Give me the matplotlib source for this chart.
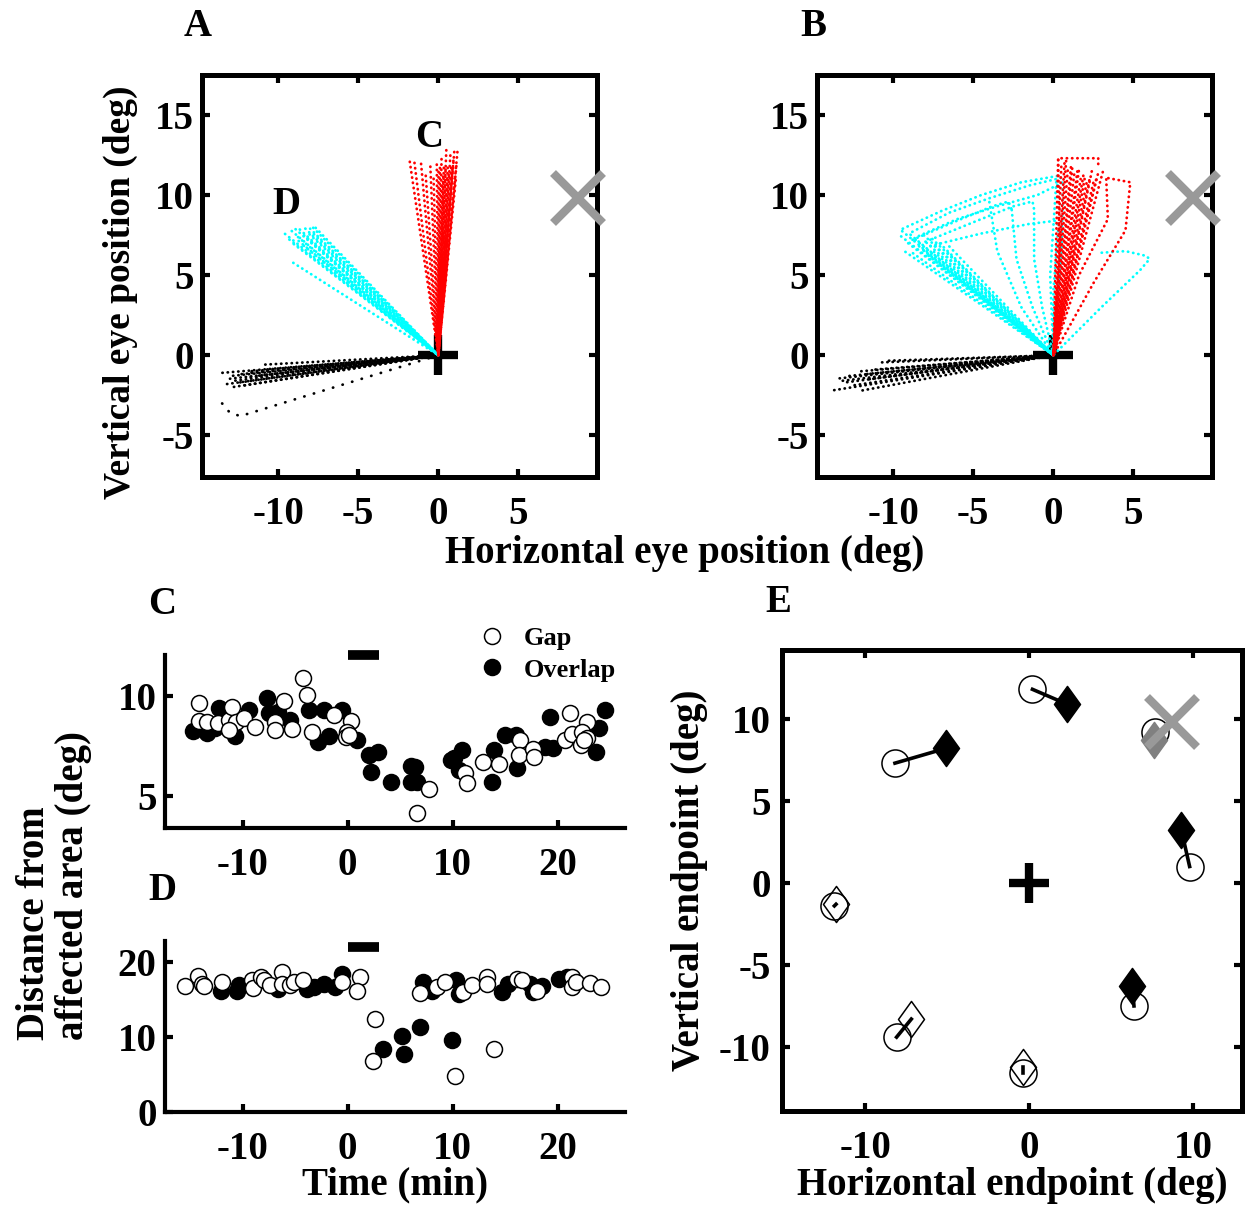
import numpy as np
import matplotlib.pyplot as plt
from matplotlib.path import Path

plt.rcParams['font.family'] = ['Liberation Serif', 'DejaVu Serif']
plt.rcParams['font.weight'] = 'bold'
plt.rcParams['axes.unicode_minus'] = False

# ---- panel A: saccade endpoints (deg), all traces start at fixation (0, 0)
a_red_x = [-1.8, -1.5, -1.1, -0.8, -0.5, -0.3, -0.1, 0.0, 0.1, 0.2, 0.3, 0.35, 0.45,
           0.5, 0.6, 0.65, 0.75, 0.8, 0.9, 0.95, 1.0, 1.1, 1.15, 1.2, 0.55, 0.25]
a_red_y = [12.2, 12.1, 12.2, 11.4, 11.8, 11.2, 12.1, 11.5, 11.9, 12.4, 11.2, 12.0, 11.6,
           12.9, 12.0, 11.4, 12.5, 11.8, 11.9, 12.3, 12.8, 11.1, 12.1, 12.8, 11.0, 10.8]
a_cyan_x = [-9.6, -9.4, -9.2, -9.0, -8.9, -8.7, -8.5, -8.4, -8.2, -8.0, -7.9, -7.7,
            -8.8, -8.6, -9.1, -8.3, -7.8, -9.1]
a_cyan_y = [7.6, 7.3, 7.8, 7.95, 7.5, 7.9, 7.6, 8.0, 7.7, 7.9, 8.05, 8.0,
            7.2, 7.0, 7.0, 7.4, 7.6, 5.8]
a_black_x = [-13.5, -13.3, -13.2, -13.0, -12.8, -12.5, -12.2, -12.0, -11.7, -11.4,
             -11.1, -10.8, -12.9, -12.4, -11.9]
a_black_y = [-1.1, -1.5, -1.8, -1.3, -1.6, -1.2, -1.9, -1.4, -1.0, -1.3,
             -0.6, -0.9, -2.0, -1.7, -1.1]
a_black_odd = [(0, 0), (-12.35, -3.8), (-13.0, -3.6), (-13.5, -3.0)]

# ---- panel B
b_black_x = [-13.8, -13.4, -13.0, -12.6, -12.2, -11.9, -11.5, -11.2, -10.8, -10.5,
             -12.8, -12.0, -13.2]
b_black_y = [-2.2, -1.45, -1.7, -1.9, -2.25, -1.2, -1.5, -0.9, -0.45, -0.35,
             -1.3, -1.0, -1.6]
b_red_x = [0.3, 0.5, 0.7, 0.9, 1.1, 1.3, 1.5, 1.7, 1.9, 2.1, 2.3, 2.5, 2.7,
           0.8, 1.2, 1.6, 2.0, 2.4, 2.8, 3.1]
b_red_y = [12.3, 11.9, 12.1, 11.6, 11.8, 11.3, 11.5, 11.0, 11.4, 10.9, 11.2, 10.8, 11.1,
           12.2, 11.9, 11.6, 11.3, 11.5, 11.4, 11.5]
b_red_paths = [
    [(0, 0), (0.4, 6.0), (0.3, 12.3), (2.8, 12.3), (2.8, 11.8)],
    [(0, 0), (2.5, 4.5), (4.5, 7.8), (4.8, 10.8), (3.2, 11.1)],
    [(0, 0), (1.6, 5.0), (3.4, 8.5), (3.3, 11.0)],
]
b_cyan_x = [-9.5, -9.2, -9.0, -8.7, -8.5, -8.2, -8.0, -7.7, -7.4, -7.1, -6.8, -6.5,
            -9.3, -8.8, -8.3, -7.9, -7.5, -9.6]
b_cyan_y = [7.8, 7.1, 7.6, 7.3, 6.9, 7.6, 7.1, 7.4, 6.8, 7.0, 6.6, 6.8,
            6.5, 6.4, 6.7, 6.3, 6.5, 7.5]
b_cyan_paths = [
    [(-9.4, 7.9), (-7.0, 9.0), (-4.5, 10.0), (-2.0, 10.8), (0.3, 11.2)],
    [(-9.0, 7.6), (-6.5, 8.9), (-4.0, 9.8), (-1.5, 10.6), (0.6, 11.1)],
    [(-8.5, 7.4), (-6.0, 8.5), (-3.5, 9.3), (-1.0, 10.0), (0.8, 10.9)],
    [(-8.8, 7.2), (-6.0, 8.4), (-3.8, 9.3), (-2.8, 9.6), (-2.6, 9.1)],
    [(-8.2, 7.0), (-5.0, 8.3), (-2.5, 9.3), (-1.3, 9.6), (-1.2, 9.1)],
    [(-7.8, 6.8), (-4.5, 7.6), (-1.5, 8.2), (0.2, 8.4), (0.3, 7.9)],
    [(-2.6, 9.1), (-2.3, 6.0), (-1.3, 3.0), (0, 0)],
    [(-1.2, 9.1), (-1.2, 6.0), (-0.7, 3.0), (0, 0)],
    [(0.3, 7.9), (0.0, 4.0), (0, 0)],
    [(-4.0, 9.6), (-3.5, 6.5), (-2.0, 3.0), (0, 0)],
    [(0, 0), (-0.2, 5.0), (0.2, 11.1)],
    [(0, 0), (0.5, 6.0), (0.6, 11.0)],
    [(0, 0), (3.0, 3.0), (5.4, 5.3), (6.0, 6.0), (5.8, 6.2), (4.5, 6.5), (3.0, 6.4)],
]

target_x, target_y = 8.7, 9.8

# ---- panels C and D: distance from affected area vs time
c_gap_t = [-14.2, -14.2, -13.4, -12.4, -11.3, -11.0, -10.6, -11.3, -9.9, -8.8, -6.9, -6.9,
           -6.1, -5.3, -4.3, -3.9, -3.4, -1.3, 0.3, -0.1, -0.2, 0.1, 6.6, 7.7, 11.2, 11.4,
           12.9, 14.4, 16.4, 16.3, 17.6, 17.7, 21.2, 20.7, 21.4, 22.8, 22.3, 22.2, 22.8, 22.5]
c_gap_y = [9.66, 8.75, 8.72, 8.67, 8.8, 9.47, 8.72, 8.3, 8.88, 8.47, 8.72, 8.3,
           9.77, 8.33, 10.88, 10.05, 8.22, 9.05, 8.75, 8.22, 7.97, 8.05, 4.17, 5.33, 6.13, 5.67,
           6.72, 6.6, 7.8, 7.05, 7.33, 6.93, 9.13, 7.8, 8.1, 8.72, 8.22, 7.55, 7.88, 7.8]
c_overlap_t = [-14.7, -13.4, -12.3, -12.6, -10.7, -9.4, -7.7, -7.5, -6.6, -5.5, -3.7, -2.3,
               -2.8, -1.8, -0.5, 0.9, 2.0, 2.9, 2.2, 4.1, 6.0, 6.45, 6.0, 6.6, 9.8, 10.1,
               10.9, 10.6, 13.75, 13.9, 15.0, 16.0, 16.1, 18.8, 19.5, 19.3, 23.6, 23.9, 24.5]
c_overlap_y = [8.27, 8.17, 9.38, 8.38, 8.0, 9.3, 9.88, 9.13, 9.2, 8.8, 9.3, 9.3,
               7.72, 8.0, 9.3, 7.8, 7.05, 7.18, 6.22, 5.72, 6.5, 6.43, 5.72, 5.72, 6.8, 6.88,
               7.3, 6.3, 5.72, 7.3, 8.05, 8.05, 6.38, 7.47, 7.38, 8.93, 7.22, 8.38, 9.3]

d_gap_t = [-15.5, -14.3, -13.9, -13.7, -12.0, -9.1, -9.0, -8.3, -8.0, -7.4, -6.25, -6.25,
           -5.5, -5.1, -4.3, -0.5, 1.2, 0.9, 2.6, 2.4, 10.2, 13.9, 6.9, 8.5, 9.3, 11.0,
           11.8, 13.3, 13.3, 16.1, 16.6, 18.0, 21.4, 21.4, 21.7, 23.1, 24.1]
d_gap_y = [16.76, 18.1, 17.1, 16.76, 17.3, 17.56, 16.6, 18.0, 17.56, 16.9, 18.67, 17.1,
           16.9, 17.3, 17.56, 17.3, 18.0, 16.2, 12.45, 6.85, 4.76, 8.45, 15.87, 16.67, 17.33, 16.0,
           16.9, 18.0, 17.1, 17.8, 17.56, 16.2, 18.0, 16.67, 17.33, 17.2, 16.67]
d_overlap_t = [-12.1, -10.4, -10.5, -6.6, -3.9, -3.2, -2.3, -1.2, -0.5, 3.4, 5.2, 5.4,
               6.9, 9.9, 7.2, 8.0, 10.3, 10.6, 14.7, 15.3, 17.4, 17.6, 18.5, 20.1, 20.9]
d_overlap_y = [16.2, 16.9, 16.2, 16.45, 16.45, 16.67, 17.1, 16.67, 18.45, 8.36, 10.2, 7.8,
               11.33, 9.56, 17.33, 16.2, 17.56, 15.8, 16.0, 17.1, 17.1, 16.0, 16.76, 17.8, 18.0]
stim_on, stim_off = 0, 3

# ---- panel E: endpoints before (circles) and after (diamonds)
e_pre_x = [-8.2, 0.2, 7.7, 9.8, 6.4, -8.1, -0.4, -11.9]
e_pre_y = [7.3, 11.8, 9.2, 1.0, -7.5, -9.4, -11.6, -1.4]
e_post_x = [-5.1, 2.3, 7.6, 9.3, 6.3, -7.2, -0.4, -11.8]
e_post_y = [8.2, 10.9, 8.7, 3.2, -6.3, -8.3, -11.2, -1.3]
e_group = ['shift', 'shift', 'target', 'shift', 'shift', 'none', 'none', 'none']


def box_axes(ax, lw=3.6):
    for s in ax.spines.values():
        s.set_linewidth(lw)
    ax.tick_params(direction='in', top=True, right=True, length=6, width=3,
                   labelsize=28)


def open_axes(ax):
    ax.spines['top'].set_visible(False)
    ax.spines['right'].set_visible(False)
    for s in ['left', 'bottom']:
        ax.spines[s].set_linewidth(3)
    ax.tick_params(direction='in', length=6, width=3, labelsize=28)


# dotted sample trains; the phase is shifted from trace to trace so the
# dots do not line up across neighbouring traces
def dotted(ax, xs, ys, color, i, gap=1.8):
    ax.plot(xs, ys, color=color, lw=2.0, dash_capstyle='round',
            ls=((i * 0.61) % (gap + 0.1), (0.1, gap)))


def fan(ax, xs, ys, color):
    for i, (x, y) in enumerate(zip(xs, ys)):
        dotted(ax, [0, x], [0, y], color, i)


def polylines(ax, paths, color, gap=1.8):
    for i, p in enumerate(paths):
        p = np.array(p)
        dotted(ax, p[:, 0], p[:, 1], color, i, gap)


fig = plt.figure(figsize=(12.49, 12.09), dpi=100)

ax_a = fig.add_axes([0.1617, 0.6055, 0.3163, 0.3325])
ax_b = fig.add_axes([0.6541, 0.6055, 0.3163, 0.3325])

for ax in (ax_a, ax_b):
    ax.plot(0, 0, marker='+', ms=29, mew=6, color='black', zorder=1)
    ax.plot(target_x, target_y, marker='x', ms=36, mew=6, color='#999999',
            clip_on=False, zorder=10)
    ax.set_xlim(-14.75, 9.9)
    ax.set_ylim(-7.6, 17.5)
    ax.set_xticks([-10, -5, 0, 5])
    ax.set_yticks([-5, 0, 5, 10, 15])
    box_axes(ax)
    ax.tick_params(axis='x', pad=14)
    ax.tick_params(axis='y', pad=6)

fan(ax_a, a_black_x, a_black_y, 'black')
polylines(ax_a, [a_black_odd], 'black', gap=3.5)
fan(ax_a, a_cyan_x, a_cyan_y, 'cyan')
fan(ax_a, a_red_x, a_red_y, 'red')
ax_a.text(-0.6, 13.6, 'C', fontsize=28, ha='center', va='center')
ax_a.text(-9.5, 9.4, 'D', fontsize=28, ha='center', va='center')

fan(ax_b, b_black_x, b_black_y, 'black')
fan(ax_b, b_cyan_x, b_cyan_y, 'cyan')
polylines(ax_b, b_cyan_paths, 'cyan')
fan(ax_b, b_red_x, b_red_y, 'red')
polylines(ax_b, b_red_paths, 'red')

fig.text(198 / 1249, 1 - 26 / 1209, 'A', fontsize=28, ha='center', va='center')
fig.text(813 / 1249, 1 - 26 / 1209, 'B', fontsize=28, ha='center', va='center')
fig.text(120 / 1249, 1 - 292 / 1209, 'Vertical eye position (deg)', fontsize=27,
         rotation=90, ha='center', va='center')
fig.text(685 / 1249, 1 - 553 / 1209, 'Horizontal eye position (deg)', fontsize=28,
         ha='center', va='center')

# ---- C and D
ax_c = fig.add_axes([0.1321, 0.3151, 0.3683, 0.1431])
ax_d = fig.add_axes([0.1321, 0.0802, 0.3683, 0.1414])

circ = dict(marker='o', ms=11.5, ls='none', mew=1.1, mec='black')
for ax, gt, gy, ot, oy in ((ax_c, c_gap_t, c_gap_y, c_overlap_t, c_overlap_y),
                           (ax_d, d_gap_t, d_gap_y, d_overlap_t, d_overlap_y)):
    ax.plot(ot, oy, mfc='black', label='Overlap', **circ)
    ax.plot(gt, gy, mfc='white', label='Gap', **circ)
    ax.set_xlim(-17.4, 26.4)
    ax.set_xticks([-10, 0, 10, 20])
    open_axes(ax)
    ax.tick_params(axis='x', pad=14)
    ax.tick_params(axis='y', pad=6)

ax_c.set_ylim(3.4, 12.05)
ax_c.set_yticks([5, 10])
ax_c.plot([stim_on, stim_off], [12.05, 12.05], color='black', lw=7,
          solid_capstyle='butt', clip_on=False)
ax_d.set_ylim(0, 22.8)
ax_d.set_yticks([0, 10, 20])
ax_d.plot([stim_on, stim_off], [22.0, 22.0], color='black', lw=7,
          solid_capstyle='butt', clip_on=False)

h, l = ax_c.get_legend_handles_labels()
ax_c.legend(h[::-1], l[::-1], loc='upper left', bbox_to_anchor=(0.66, 1.225),
            frameon=False, fontsize=19, handletextpad=0.7, labelspacing=0.3,
            handlelength=1.0, borderaxespad=0)

fig.text(162 / 1249, 1 - 605 / 1209, 'C', fontsize=28, ha='center', va='center')
fig.text(162 / 1249, 1 - 890 / 1209, 'D', fontsize=28, ha='center', va='center')
fig.text(54 / 1249, 1 - 885 / 1209, 'Distance from\naffected area (deg)', fontsize=28,
         rotation=90, ha='center', va='center', multialignment='left',
         linespacing=1.1)
fig.text(395 / 1249, 1 - 1185 / 1209, 'Time (min)', fontsize=28,
         ha='center', va='center')

# ---- E
ax_e = fig.add_axes([0.6261, 0.0811, 0.3683, 0.3813])
diamond = Path([(0, 1), (0.72, 0), (0, -1), (-0.72, 0), (0, 1)],
               [Path.MOVETO, Path.LINETO, Path.LINETO, Path.LINETO, Path.CLOSEPOLY])
post_style = {
    'shift': dict(mfc='black', mec='black'),
    'target': dict(mfc='#808080', mec='#808080'),
    'none': dict(mfc='none', mec='black'),
}
ax_e.plot(0, 0, marker='+', ms=29, mew=6, color='black')
for x0, y0, x1, y1, g in zip(e_pre_x, e_pre_y, e_post_x, e_post_y, e_group):
    ax_e.plot(x0, y0, marker='o', ms=19.5, mfc='none', mec='black', mew=1.1, zorder=2)
    ax_e.plot(x1, y1, marker=diamond, ms=26, mew=1.1, zorder=3 if g != 'none' else 2,
              **post_style[g])
    ax_e.plot([x0, x1], [y0, y1], color='black', lw=2.6,
              zorder=2.5 if g != 'none' else 4)
ax_e.plot(target_x, target_y, marker='x', ms=36, mew=6, color='#999999', zorder=5)
ax_e.set_xlim(-15.1, 13.0)
ax_e.set_ylim(-13.9, 14.2)
ax_e.set_xticks([-10, 0, 10])
ax_e.set_yticks([-10, -5, 0, 5, 10])
box_axes(ax_e)
ax_e.tick_params(axis='x', pad=14)
ax_e.tick_params(axis='y', pad=8)

fig.text(778 / 1249, 1 - 603 / 1209, 'E', fontsize=28, ha='center', va='center')
fig.text(690 / 1249, 1 - 880 / 1209, 'Vertical endpoint (deg)', fontsize=28,
         rotation=90, ha='center', va='center')
fig.text(1012 / 1249, 1 - 1185 / 1209, 'Horizontal endpoint (deg)', fontsize=28,
         ha='center', va='center')

fig.savefig('out.png', dpi=100)
